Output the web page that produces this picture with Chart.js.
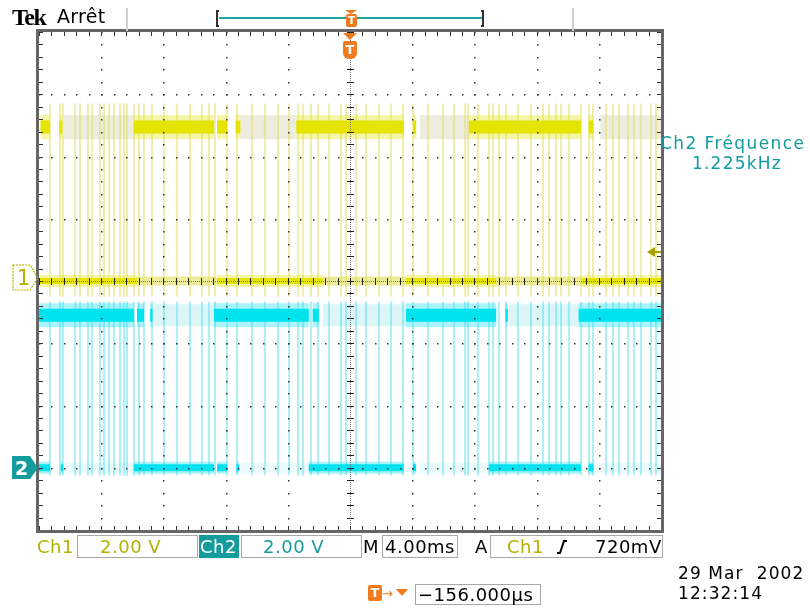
<!DOCTYPE html>
<html>
<head>
<meta charset="utf-8">
<script src="https://cdn.jsdelivr.net/npm/chart.js@4.4.1/dist/chart.umd.min.js"></script>
<style>
  html, body { margin: 0; padding: 0; background: #fff; }
  #scope { position: relative; width: 810px; height: 608px; overflow: hidden; font-family: 'DejaVu Sans', sans-serif; }
  #scope canvas { position: absolute; left: 0; top: 0; }
  .t { position: absolute; white-space: pre; font-size: 18px; line-height: 18px; letter-spacing: 0.5px; }
  .box { position: absolute; border: 1px solid #a8a8a8; box-sizing: border-box; }
  .abs { position: absolute; }
  .olive { color: #b2b200; }
  .teal { color: #149c9c; }
  .tbox { position: absolute; background: #f07a1e; color: #fff; font: bold 13px 'DejaVu Sans'; line-height: 14px; text-align: center; border-radius: 2px; }
</style>
</head>
<body>
<div id="scope">
  <canvas id="scope-chart" width="810" height="608"></canvas>

  <!-- header -->
  <div class="t" style="left:12px;top:5px;font:bold 24px 'Liberation Serif';line-height:24px;letter-spacing:-1.5px">Tek</div>
  <div class="t" style="left:57px;top:7px;font-size:19px;line-height:19px;letter-spacing:0.3px">Arrêt</div>
  <div class="abs" style="left:126px;top:8px;width:2px;height:23px;background:#cfcfcf"></div>
  <div class="abs" style="left:572px;top:8px;width:2px;height:23px;background:#cfcfcf"></div>
  <div class="abs" style="left:216px;top:10px;width:3px;height:17px;border:2px solid #333;border-right:none;box-sizing:border-box"></div>
  <div class="abs" style="left:219px;top:17px;width:263px;height:2px;background:#1aa6a6"></div>
  <div class="abs" style="left:481px;top:10px;width:3px;height:17px;border:2px solid #333;border-left:none;box-sizing:border-box"></div>
  <div class="abs" style="left:345px;top:10px;width:0;height:0;border-left:6px solid transparent;border-right:6px solid transparent;border-top:4px solid #f07a1e"></div>
  <div class="tbox" style="left:346px;top:14px;width:11px;height:13px;font-size:11px;line-height:13px">T</div>
  <div class="abs" style="left:343px;top:33px;width:0;height:0;border-left:7px solid transparent;border-right:7px solid transparent;border-top:7px solid #f07a1e"></div>
  <div class="tbox" style="left:343px;top:41px;width:14px;height:18px;line-height:18px;border-radius:2px 2px 6px 6px">T</div>

  <!-- channel markers -->
  <svg class="abs" style="left:12px;top:264px" width="28" height="28">
    <polygon points="1,1 18,1 26,14 18,26 1,26" fill="none" stroke="#b2b200" stroke-width="1.2" stroke-dasharray="2,1"/>
  </svg>
  <div class="t olive" style="left:17px;top:268px;font-size:21px;line-height:21px">1</div>
  <svg class="abs" style="left:12px;top:456px" width="28" height="24">
    <polygon points="0,0 18,0 26,12 18,23 0,23" fill="#149c9c"/>
  </svg>
  <div class="t" style="left:15px;top:459px;color:#fff;font-weight:bold;font-size:19px;line-height:19px">2</div>
  <svg class="abs" style="left:646px;top:246px" width="16" height="12">
    <polygon points="1,6 9,1 9,11" fill="#a89f00"/>
    <rect x="9" y="5" width="6" height="2" fill="#a89f00"/>
  </svg>

  <!-- measurement -->
  <div class="t teal" style="left:660px;top:135px;font-size:17px;line-height:17px;letter-spacing:1.4px">Ch2 Fréquence</div>
  <div class="t teal" style="left:692px;top:155px;font-size:17px;line-height:17px;letter-spacing:1.2px">1.225kHz</div>

  <!-- status line -->
  <div class="t olive" style="left:37px;top:538px">Ch1</div>
  <div class="box" style="left:77px;top:535px;width:121px;height:23px"></div>
  <div class="t olive" style="left:100px;top:538px">2.00 V</div>
  <div class="abs" style="left:199px;top:535px;width:40px;height:23px;background:#149c9c"></div>
  <div class="t" style="left:200px;top:538px;color:#fff">Ch2</div>
  <div class="box" style="left:241px;top:535px;width:121px;height:23px"></div>
  <div class="t teal" style="left:263px;top:538px">2.00 V</div>
  <div class="t" style="left:363px;top:538px">M</div>
  <div class="box" style="left:382px;top:535px;width:76px;height:23px"></div>
  <div class="t" style="left:385px;top:538px">4.00ms</div>
  <div class="t" style="left:475px;top:538px">A</div>
  <div class="box" style="left:490px;top:535px;width:173px;height:23px"></div>
  <div class="t olive" style="left:507px;top:538px">Ch1</div>
  <svg class="abs" style="left:556px;top:539px" width="12" height="16">
    <polyline points="1,14 4,14 8,2 11,2" fill="none" stroke="#000" stroke-width="2"/>
  </svg>
  <div class="t" style="left:595px;top:538px">720mV</div>

  <div class="tbox" style="left:368px;top:585px;width:14px;height:16px;line-height:16px">T</div>
  <div class="t" style="left:382px;top:585px;color:#f07a1e;font-size:13px">→</div>
  <div class="abs" style="left:396px;top:589px;width:0;height:0;border-left:6px solid transparent;border-right:6px solid transparent;border-top:7px solid #f07a1e"></div>
  <div class="box" style="left:415px;top:584px;width:126px;height:21px"></div>
  <div class="t" style="left:418px;top:586px">−156.000µs</div>
  <div class="t" style="left:678px;top:565px;font-size:17px;line-height:17px;letter-spacing:1.1px">29 Mar  2002</div>
  <div class="t" style="left:678px;top:585px;font-size:17px;line-height:17px;letter-spacing:1.1px">12:32:14</div>
</div>

<script>
// horizontal: ms, 4 ms/div, trigger in the middle
const timeTicks = [-20, -16, -12, -8, -4, 0, 4, 8, 12, 16, 20];
// vertical: screen divisions
const divTicks = [-4, -3, -2, -1, 0, 1, 2, 3, 4];
const voltsPerDiv = [2.0, 2.0];     // Ch1, Ch2
const groundDiv = [0, -3];          // where each channel's 0 V sits
const ch1Levels = [0, 4.95];        // low, high (V)
const ch2Levels = [0, 4.9];
const ch1EdgeSpan = [-0.5, 5.7];    // extent of the edge strokes (V)
const ch2EdgeSpan = [-0.25, 5.35];

// last acquisition (bright) and older persistence (pale), [start, end] in ms
const ch1HighLast = [[-19.9, -19.3], [-18.7, -18.5], [-13.9, -8.75], [-8.55, -7.9], [-7.35, -7.05],
  [-3.45, 3.45], [4.05, 4.25], [7.65, 14.85], [15.35, 15.65]];
const ch1HighOld = [[-18.4, -13.9], [-7.05, -3.45], [4.5, 7.65], [16.1, 20]];
const ch1LowLast = [[-20, -13.7], [-8.55, -1.75], [3.6, 9.4], [14.9, 20]];
const ch1LowOld = [[-13.7, -8.55], [-1.75, 3.6], [9.4, 14.9]];

const ch2HighLast = [[-20, -13.9], [-13.7, -13.25], [-12.85, -12.7], [-8.75, -2.65], [-2.4, -2.0],
  [3.6, 9.4], [10.0, 10.15], [14.7, 20]];
const ch2HighOld = [[-12.6, -8.75], [-1.75, 3.6], [10.2, 14.7]];
const ch2LowLast = [[-20, -19.3], [-18.6, -18.45], [-13.9, -8.75], [-8.55, -7.9], [-7.3, -7.15],
  [-2.65, 3.45], [4.05, 4.25], [8.95, 14.85], [15.35, 15.65]];
const ch2LowOld = [[-18.4, -13.9], [-7.05, -2.65], [4.5, 8.95], [15.7, 20]];

// edge times seen on the persistence display (ms)
const edgeTimes = [-19.29, -18.65, -18.46, -17.68, -17.36, -16.85, -16.59, -16.08, -15.82, -15.50,
  -15.18, -14.79, -14.53, -14.34, -13.89, -13.57, -13.25, -12.73, -11.96, -11.13, -10.29, -9.52,
  -9.07, -8.68, -7.91, -7.27, -6.30, -5.47, -4.63, -3.92, -3.34, -3.02, -2.51, -2.06, -1.35,
  -0.58, -0.26, 0.39, 1.03, 1.86, 2.64, 3.41, 4.05, 5.02, 5.98, 6.69, 7.40, 7.59, 8.23, 8.94,
  9.20, 9.58, 10.03, 10.80, 11.64, 12.41, 12.80, 13.25, 13.57, 14.08, 14.86, 15.37, 15.63, 16.46,
  16.91, 17.30, 17.88, 18.26, 18.71, 19.36, 19.68];

const triggerTime = 0;

function toDiv(ch, volts) {
  return volts / voltsPerDiv[ch] + groundDiv[ch];
}

function bandPoints(ranges, ch, volts) {
  const y = toDiv(ch, volts);
  const pts = [];
  ranges.forEach(([a, b]) => {
    pts.push({ x: a, y }, { x: b, y }, { x: b, y: null });
  });
  return pts;
}

function edgePoints(times, ch, span) {
  const pts = [];
  times.forEach(t => {
    pts.push({ x: t, y: toDiv(ch, span[0]) }, { x: t, y: toDiv(ch, span[1]) }, { x: t, y: null });
  });
  return pts;
}

function trace(label, data, color, width, order) {
  return {
    label, data, order,
    borderColor: color,
    borderWidth: width,
    borderCapStyle: 'butt',
    pointRadius: 0,
    fill: false,
    spanGaps: false,
    tension: 0
  };
}

const C1 = { core: '#e4e400', halo: 'rgba(232,232,40,0.4)', old: '#ececdf', lowOld: '#ecec9a', edge: 'rgba(226,222,90,0.5)' };
const C2 = { core: '#00e2ee', halo: 'rgba(40,226,240,0.4)', old: '#dcf6f8', lowOld: '#ecfafb', edge: 'rgba(70,222,236,0.45)' };

/**
 * Tek style graticule: dotted divisions, ruled centre cross and frame ticks.
 */
const graticule = {
  id: 'graticule',
  afterDatasetsDraw(chart) {
    const { ctx, chartArea: a, scales: { x, y } } = chart;
    const px = v => Math.round(x.getPixelForValue(v));
    const py = v => Math.round(y.getPixelForValue(v));
    const xMinor = [], yMinor = [];
    for (let i = 0; i <= 50; i++) xMinor.push(timeTicks[0] + i * (timeTicks[1] - timeTicks[0]) / 5);
    for (let i = 0; i <= 40; i++) yMinor.push(divTicks[0] + i * 0.2);
    ctx.save();

    // dotted division lines
    ctx.fillStyle = '#333';
    timeTicks.slice(1, -1).forEach(t => {
      if (t === triggerTime) return;
      yMinor.forEach(v => ctx.fillRect(px(t), py(v), 1.5, 1.5));
    });
    divTicks.slice(1, -1).forEach(d => {
      if (d === 0) return;
      xMinor.forEach(t => ctx.fillRect(px(t), py(d), 1.5, 1.5));
    });

    // centre cross
    const cx = px(triggerTime), cy = py(0);
    ctx.fillStyle = '#777';
    for (let yy = a.top; yy < a.bottom; yy += 2) ctx.fillRect(cx, yy, 1, 1);
    for (let xx = a.left; xx < a.right; xx += 2) ctx.fillRect(xx, cy, 1, 1);
    ctx.fillStyle = '#222';
    yMinor.forEach(v => ctx.fillRect(cx - 3, py(v), 7, 1));
    xMinor.forEach(t => ctx.fillRect(px(t), cy - 3, 1, 7));

    // frame and its ticks
    ctx.fillStyle = '#333';
    yMinor.forEach(v => {
      ctx.fillRect(a.left, py(v), 4, 1);
      ctx.fillRect(a.right - 4, py(v), 4, 1);
    });
    xMinor.forEach(t => {
      ctx.fillRect(px(t), a.top, 1, 4);
      ctx.fillRect(px(t), a.bottom - 4, 1, 4);
    });
    ctx.strokeStyle = '#666';
    ctx.lineWidth = 3;
    ctx.strokeRect(a.left - 1.5, a.top - 1.5, a.right - a.left + 3, a.bottom - a.top + 3);
    ctx.restore();
  }
};

new Chart(document.getElementById('scope-chart'), {
  type: 'line',
  data: {
    datasets: [
      trace('Ch1 high', bandPoints(ch1HighLast, 0, ch1Levels[1]), C1.core, 13, 1),
      trace('Ch1 low', bandPoints(ch1LowLast, 0, ch1Levels[0]), C1.core, 6, 1),
      trace('Ch2 high', bandPoints(ch2HighLast, 1, ch2Levels[1]), C2.core, 13, 1),
      trace('Ch2 low', bandPoints(ch2LowLast, 1, ch2Levels[0]), C2.core, 7, 1),
      trace('Ch1 high halo', bandPoints(ch1HighLast, 0, ch1Levels[1]), C1.halo, 24, 2),
      trace('Ch1 low halo', bandPoints(ch1LowLast, 0, ch1Levels[0]), C1.halo, 12, 2),
      trace('Ch2 high halo', bandPoints(ch2HighLast, 1, ch2Levels[1]), C2.halo, 24, 2),
      trace('Ch2 low halo', bandPoints(ch2LowLast, 1, ch2Levels[0]), C2.halo, 12, 2),
      trace('Ch1 edges', edgePoints(edgeTimes, 0, ch1EdgeSpan), C1.edge, 2, 3),
      trace('Ch2 edges', edgePoints(edgeTimes, 1, ch2EdgeSpan), C2.edge, 2, 3),
      trace('Ch1 high old', bandPoints(ch1HighOld, 0, ch1Levels[1]), C1.old, 24, 4),
      trace('Ch1 low old', bandPoints(ch1LowOld, 0, ch1Levels[0]), C1.lowOld, 9, 4),
      trace('Ch2 high old', bandPoints(ch2HighOld, 1, ch2Levels[1]), C2.old, 22, 4),
      trace('Ch2 low old', bandPoints(ch2LowOld, 1, ch2Levels[0]), C2.lowOld, 10, 4)
    ]
  },
  options: {
    responsive: false,
    animation: false,
    devicePixelRatio: 1,
    events: [],
    layout: { padding: { left: 39, right: 149, top: 32, bottom: 78 } },
    scales: {
      x: { type: 'linear', min: timeTicks[0], max: timeTicks[timeTicks.length - 1], display: false },
      y: { type: 'linear', min: divTicks[0], max: divTicks[divTicks.length - 1], display: false }
    },
    plugins: {
      legend: { display: false },
      tooltip: { enabled: false }
    }
  },
  plugins: [graticule]
});
</script>
</body>
</html>
